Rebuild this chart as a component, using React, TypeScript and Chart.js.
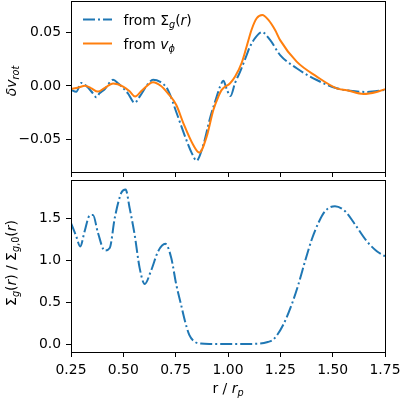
import { useEffect, useRef } from "react";
import { Chart, registerables } from "chart.js";

Chart.register(...registerables);

// Rotation-curve perturbation, derived two ways (upper panel)
const rFromSigma = [0.25, 0.275, 0.299, 0.323, 0.355, 0.371, 0.386, 0.411, 0.451, 0.475, 0.522, 0.554, 0.578, 0.618, 0.642, 0.674, 0.713, 0.755, 0.795, 0.827, 0.85, 0.882, 0.914, 0.946, 0.962, 0.978, 0.994, 1.012, 1.034, 1.057, 1.089, 1.105, 1.134, 1.163, 1.2, 1.249, 1.328, 1.424, 1.519, 1.583, 1.662, 1.75];
const dvFromSigma = [-0.0037, -0.0055, 0.0028, 0.0, -0.0069, -0.0105, -0.0069, -0.003, 0.0058, 0.0025, -0.0069, -0.0158, -0.01, 0.0019, 0.0058, 0.0041, -0.0037, -0.0256, -0.0475, -0.063, -0.07, -0.0553, -0.0303, -0.01, -0.0006, 0.0048, -0.003, -0.0095, 0.003, 0.013, 0.029, 0.037, 0.046, 0.0505, 0.0435, 0.029, 0.0166, 0.0056, -0.0022, -0.0044, -0.0056, -0.0037];

const rFromVphi = [0.25, 0.285, 0.317, 0.345, 0.379, 0.41, 0.451, 0.499, 0.53, 0.556, 0.59, 0.642, 0.68, 0.713, 0.753, 0.787, 0.834, 0.863, 0.898, 0.93, 0.954, 0.97, 1.01, 1.034, 1.066, 1.089, 1.113, 1.137, 1.164, 1.193, 1.225, 1.249, 1.328, 1.424, 1.519, 1.567, 1.647, 1.71, 1.75];
const dvFromVphi = [-0.0028, -0.0015, 0.0003, -0.002, -0.0053, -0.002, 0.0022, -0.0006, -0.005, -0.0098, -0.004, 0.0035, 0.0, -0.0069, -0.0178, -0.035, -0.0553, -0.0625, -0.0475, -0.0225, -0.01, -0.0037, 0.0025, 0.0088, 0.022, 0.037, 0.053, 0.0635, 0.0666, 0.062, 0.0525, 0.043, 0.0228, 0.0088, -0.0022, -0.004, -0.0075, -0.0056, -0.003];

// Normalised gas surface density (lower panel)
const rSurface = [0.25, 0.275, 0.294, 0.315, 0.339, 0.355, 0.379, 0.411, 0.435, 0.459, 0.49, 0.511, 0.53, 0.554, 0.578, 0.602, 0.634, 0.666, 0.701, 0.729, 0.753, 0.775, 0.795, 0.815, 0.84, 0.87, 0.92, 1.0, 1.08, 1.153, 1.19, 1.217, 1.264, 1.304, 1.336, 1.368, 1.4, 1.432, 1.464, 1.511, 1.559, 1.607, 1.663, 1.711, 1.75];
const surfaceRatio = [1.45, 1.29, 1.17, 1.35, 1.54, 1.545, 1.33, 1.12, 1.15, 1.51, 1.81, 1.852, 1.63, 1.31, 0.91, 0.72, 0.89, 1.11, 1.2, 1.03, 0.71, 0.48, 0.27, 0.11, 0.03, 0.006, 0.001, 0.0, 0.001, 0.006, 0.025, 0.055, 0.232, 0.472, 0.712, 0.992, 1.252, 1.452, 1.592, 1.652, 1.592, 1.432, 1.232, 1.112, 1.052];

const xTicks = [0.25, 0.5, 0.75, 1.0, 1.25, 1.5, 1.75];
const topYTicks = [-0.05, 0.0, 0.05];
const bottomYTicks = [0.0, 0.5, 1.0, 1.5];

const BLUE = "#1f77b4";
const ORANGE = "#ff7f0e";
const FONT = "DejaVu Sans";
const FS = 13.9;
const LW = 2;
const TICK = 5;
const DASHDOT = [12, 3, 2, 3];

type Seg = { t: string; it?: boolean; sub?: boolean };

const segFont = (s: Seg) => `${s.it ? "italic " : ""}${s.sub ? FS * 0.7 : FS}px "${FONT}"`;

function richWidth(ctx: CanvasRenderingContext2D, segs: Seg[]) {
  let w = 0;
  for (const s of segs) {
    ctx.font = segFont(s);
    w += ctx.measureText(s.t).width;
  }
  return w;
}

function drawRich(ctx: CanvasRenderingContext2D, segs: Seg[], x: number, y: number, align: "left" | "center") {
  let cx = align === "center" ? x - richWidth(ctx, segs) / 2 : x;
  ctx.textAlign = "left";
  ctx.textBaseline = "alphabetic";
  ctx.fillStyle = "#000";
  for (const s of segs) {
    ctx.font = segFont(s);
    ctx.fillText(s.t, cx, y + (s.sub ? FS * 0.22 : 0));
    cx += ctx.measureText(s.t).width;
  }
}

function drawRotated(ctx: CanvasRenderingContext2D, segs: Seg[], x: number, y: number) {
  ctx.save();
  ctx.translate(x, y);
  ctx.rotate(-Math.PI / 2);
  drawRich(ctx, segs, 0, 0, "center");
  ctx.restore();
}

const framePlugin = {
  id: "frame",
  afterDraw(chart: any) {
    const { ctx, chartArea: a } = chart;
    ctx.save();
    ctx.strokeStyle = "#000";
    ctx.lineWidth = 1;
    ctx.setLineDash([]);
    ctx.strokeRect(a.left + 0.5, a.top + 0.5, a.right - a.left, a.bottom - a.top);
    ctx.restore();
  },
};

const fmtMinus = (v: number, digits: number) => (v < 0 ? "\u2212" : "") + Math.abs(v).toFixed(digits);

function xScale(showLabels: boolean, height: number) {
  return {
    type: "linear" as const,
    min: 0.25,
    max: 1.75,
    afterBuildTicks: (s: any) => {
      s.ticks = xTicks.map((value) => ({ value }));
    },
    ticks: {
      display: showLabels,
      autoSkip: false,
      maxRotation: 0,
      padding: 5,
      color: "#000",
      font: { family: FONT, size: FS },
      callback: (v: any) => Number(v).toFixed(2),
    },
    grid: { display: true, drawOnChartArea: false, drawTicks: true, tickLength: TICK, color: "#000", lineWidth: 1 },
    border: { display: false },
    afterFit: (s: any) => {
      s.height = height;
      s.paddingLeft = 0;
      s.paddingRight = 0;
      s.paddingTop = 0;
      s.paddingBottom = 0;
    },
  };
}

function yScale(min: number, max: number, ticks: number[], digits: number) {
  return {
    type: "linear" as const,
    min,
    max,
    afterBuildTicks: (s: any) => {
      s.ticks = ticks.map((value) => ({ value }));
    },
    ticks: {
      autoSkip: false,
      padding: 5,
      color: "#000",
      font: { family: FONT, size: FS },
      callback: (v: any) => fmtMinus(Number(v), digits),
    },
    grid: { display: true, drawOnChartArea: false, drawTicks: true, tickLength: TICK, color: "#000", lineWidth: 1 },
    border: { display: false },
    afterFit: (s: any) => {
      s.width = 71;
      s.paddingLeft = 0;
      s.paddingRight = 0;
      s.paddingTop = 0;
      s.paddingBottom = 0;
    },
  };
}

const toPoints = (xs: number[], ys: number[]) => xs.map((x, i) => ({ x, y: ys[i] }));

const lineStyle = {
  pointRadius: 0,
  borderWidth: LW,
  tension: 0.4,
  cubicInterpolationMode: "monotone" as const,
  fill: false,
};

const legendRows: { color: string; dash: number[]; segs: Seg[] }[] = [
  {
    color: BLUE,
    dash: DASHDOT,
    segs: [{ t: "from " }, { t: "\u03A3" }, { t: "g", it: true, sub: true }, { t: "(" }, { t: "r", it: true }, { t: ")" }],
  },
  {
    color: ORANGE,
    dash: [],
    segs: [{ t: "from " }, { t: "v", it: true }, { t: "\u03D5", it: true, sub: true }],
  },
];

const topDecor = {
  id: "topDecor",
  afterDraw(chart: any) {
    const ctx: CanvasRenderingContext2D = chart.ctx;
    legendRows.forEach((row, i) => {
      const y = 19.5 + i * 24;
      ctx.save();
      ctx.strokeStyle = row.color;
      ctx.lineWidth = LW;
      ctx.setLineDash(row.dash);
      ctx.beginPath();
      ctx.moveTo(83, y);
      ctx.lineTo(112, y);
      ctx.stroke();
      ctx.restore();
      drawRich(ctx, row.segs, 123.5, y + 5, "left");
    });
    drawRotated(ctx, [{ t: "\u03B4", it: true }, { t: "v", it: true }, { t: "rot", it: true, sub: true }], 16, 81);
  },
};

const bottomDecor = {
  id: "bottomDecor",
  afterDraw(chart: any) {
    const ctx: CanvasRenderingContext2D = chart.ctx;
    const a = chart.chartArea;
    drawRotated(
      ctx,
      [
        { t: "\u03A3" }, { t: "g", it: true, sub: true }, { t: "(" }, { t: "r", it: true }, { t: ")" },
        { t: " / " },
        { t: "\u03A3" }, { t: "g", it: true, sub: true }, { t: ",0", sub: true }, { t: "(" }, { t: "r", it: true }, { t: ")" },
      ],
      16,
      263
    );
    drawRich(ctx, [{ t: "r / " }, { t: "r", it: true }, { t: "p", it: true, sub: true }], (a.left + a.right) / 2, 393, "center");
  },
};

export default function App() {
  const topRef = useRef<HTMLCanvasElement>(null);
  const bottomRef = useRef<HTMLCanvasElement>(null);

  useEffect(() => {
    const common = {
      animation: false as const,
      responsive: false,
      devicePixelRatio: 1,
      events: [] as any[],
    };

    const top = new Chart(topRef.current!, {
      type: "line",
      data: {
        datasets: [
          { ...lineStyle, label: "from Sigma_g(r)", data: toPoints(rFromSigma, dvFromSigma), borderColor: BLUE, borderDash: DASHDOT, order: 1 },
          { ...lineStyle, label: "from v_phi", data: toPoints(rFromVphi, dvFromVphi), borderColor: ORANGE, order: 0 },
        ],
      },
      options: {
        ...common,
        layout: { padding: { top: 1, right: 15, left: 0, bottom: 399 - 172 - TICK } },
        plugins: { legend: { display: false }, tooltip: { enabled: false } },
        scales: {
          x: xScale(false, TICK),
          y: yScale(-0.0807, 0.0797, topYTicks, 2),
        },
      },
      plugins: [framePlugin, topDecor],
    } as any);

    const bottom = new Chart(bottomRef.current!, {
      type: "line",
      data: {
        datasets: [
          { ...lineStyle, label: "Sigma_g / Sigma_g0", data: toPoints(rSurface, surfaceRatio), borderColor: BLUE, borderDash: DASHDOT },
        ],
      },
      options: {
        ...common,
        layout: { padding: { top: 180, right: 15, left: 0, bottom: 0 } },
        plugins: { legend: { display: false }, tooltip: { enabled: false } },
        scales: {
          x: xScale(true, 47),
          y: yScale(-0.095, 1.965, bottomYTicks, 1),
        },
      },
      plugins: [framePlugin, bottomDecor],
    } as any);

    return () => {
      top.destroy();
      bottom.destroy();
    };
  }, []);

  return (
    <div style={{ position: "fixed", left: 0, top: 0, width: 400, height: 399, background: "#fff" }}>
      <canvas ref={topRef} width={400} height={399} style={{ position: "absolute", left: 0, top: 0 }} />
      <canvas ref={bottomRef} width={400} height={399} style={{ position: "absolute", left: 0, top: 0 }} />
    </div>
  );
}
